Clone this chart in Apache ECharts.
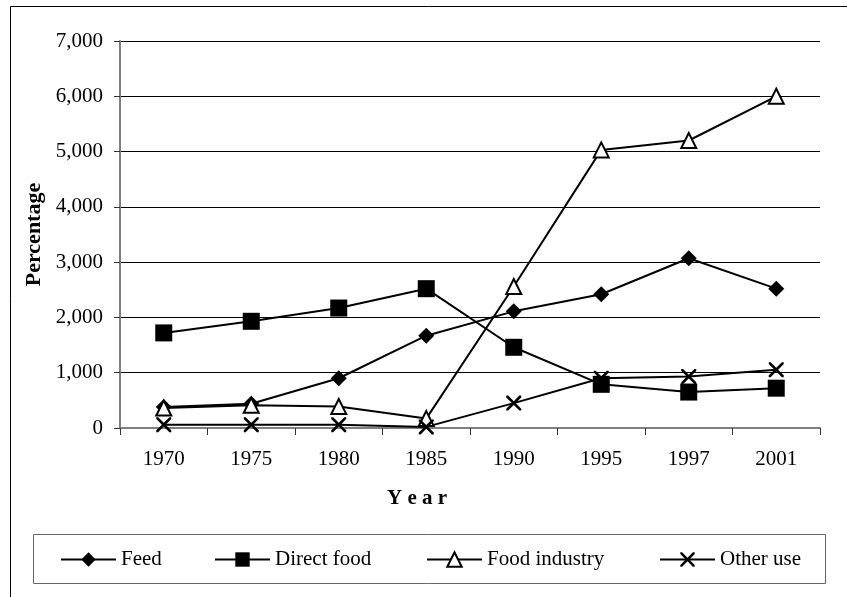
<!DOCTYPE html>
<html><head><meta charset="utf-8">
<script src="https://cdn.jsdelivr.net/npm/echarts@6/dist/echarts.min.js"></script>
<style>html,body{margin:0;padding:0;background:#fff}#c{width:847px;height:597px}</style>
</head><body><div id="c"></div>
<script>
var years = ['1970','1975','1980','1985','1990','1995','1997','2001'];
var feed = [380, 440, 900, 1670, 2110, 2420, 3070, 2520];
var directFood = [1720, 1930, 2170, 2520, 1460, 790, 650, 720];
var foodIndustry = [360, 410, 390, 170, 2560, 5030, 5200, 6000];
var otherUse = [60, 60, 60, 20, 450, 900, 930, 1055];
var yTicks = [0, 1000, 2000, 3000, 4000, 5000, 6000, 7000];

var font = '"Liberation Serif", "Times New Roman", serif';
var crossPath = 'path://M0,0 L2.5,0 L10,7.5 L17.5,0 L20,0 L20,2.5 L12.5,10 L20,17.5 L20,20 L17.5,20 L10,12.5 L2.5,20 L0,20 L0,17.5 L7.5,10 L0,2.5 Z';

function mkSeries(name, data, symbol, size, filled) {
  return {
    name: name, type: 'line', data: data,
    symbol: symbol, symbolSize: size, showAllSymbol: true,
    lineStyle: { color: '#000', width: 2 },
    itemStyle: filled ? { color: '#000', borderColor: '#000', borderWidth: 0 }
                      : { color: '#fff', borderColor: '#000', borderWidth: 2 },
    emphasis: { disabled: true },
    animation: false
  };
}

function mkLegend(name, left) {
  return {
    data: [name], left: left, top: 549, itemWidth: 55, itemHeight: 18, padding: 0,
    textStyle: { fontFamily: font, fontSize: 21, color: '#000' },
    selectedMode: false
  };
}

var chart = echarts.init(document.getElementById('c'), null, { renderer: 'canvas' });
chart.setOption({
  backgroundColor: '#fff',
  animation: false,
  grid: { left: 120, right: 27, top: 41, bottom: 169, containLabel: false },
  xAxis: {
    type: 'category', data: years, boundaryGap: true,
    name: 'Y e a r', nameLocation: 'middle', nameGap: 60,
    nameTextStyle: { fontFamily: font, fontSize: 21, fontWeight: 'bold', color: '#000', padding: [0, 106, 0, 0] },
    axisLine: { lineStyle: { color: '#808080', width: 2 } },
    axisTick: { show: true, length: 7, inside: false, lineStyle: { color: '#333' }, alignWithLabel: false },
    axisLabel: { fontFamily: font, fontSize: 21, color: '#000', margin: 21 },
    splitLine: { show: false }
  },
  yAxis: {
    type: 'value', min: 0, max: 7000, interval: 1000,
    name: 'Percentage', nameLocation: 'middle', nameGap: 75,
    nameTextStyle: { fontFamily: font, fontSize: 22, fontWeight: 'bold', color: '#000' },
    axisLine: { show: true, lineStyle: { color: '#808080', width: 2 } },
    axisTick: { show: true, length: 6, lineStyle: { color: '#333' } },
    axisLabel: { fontFamily: font, fontSize: 21, color: '#000', margin: 17,
      formatter: function (v) { return yTicks.indexOf(v) >= 0 ? v.toLocaleString('en-US') : ''; } },
    splitLine: { show: true, lineStyle: { color: '#000', width: 1 } }
  },
  legend: [
    mkLegend('Feed', 60),
    mkLegend('Direct food', 214),
    mkLegend('Food industry', 426),
    mkLegend('Other use', 659)
  ],
  graphic: [
    { type: 'rect', shape: { x: 10.5, y: 6.5, width: 900, height: 700 }, style: { fill: 'none', stroke: '#000', lineWidth: 1 }, silent: true },
    { type: 'rect', shape: { x: 33.5, y: 534.5, width: 792, height: 49 }, style: { fill: 'none', stroke: '#666', lineWidth: 1 }, silent: true }
  ],
  series: [
    mkSeries('Feed', feed, 'diamond', 16, true),
    mkSeries('Direct food', directFood, 'rect', 17, true),
    mkSeries('Food industry', foodIndustry, 'triangle', 15, false),
    mkSeries('Other use', otherUse, crossPath, 15, true)
  ]
});
</script></body></html>
